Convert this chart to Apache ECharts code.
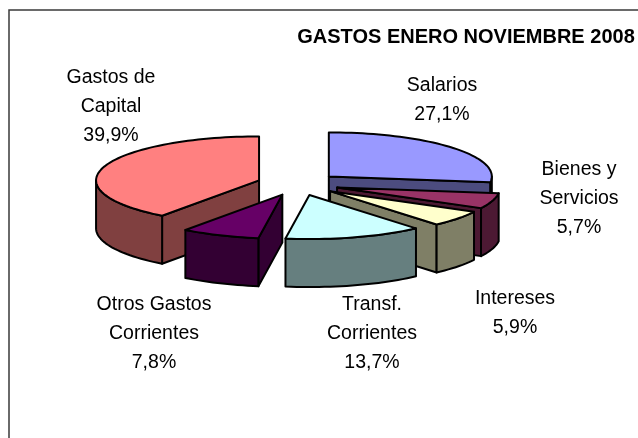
<!DOCTYPE html>
<html>
<head>
<meta charset="utf-8">
<style>html,body{margin:0;padding:0;background:#fff}#c{width:638px;height:438px}</style>
<script src="https://cdn.jsdelivr.net/npm/echarts@6/dist/echarts.min.js"></script>
</head>
<body>
<div id="c"></div>
<script>
const titleText = 'GASTOS ENERO NOVIEMBRE 2008';
const categories = ['Salarios', 'Bienes y Servicios', 'Intereses', 'Transf. Corrientes', 'Otros Gastos Corrientes', 'Gastos de Capital'];
const labelLines = [['Salarios'], ['Bienes y', 'Servicios'], ['Intereses'], ['Transf.', 'Corrientes'], ['Otros Gastos', 'Corrientes'], ['Gastos de', 'Capital']];
const shares = [27.1, 5.7, 5.9, 13.7, 7.8, 39.9];

const topColors = ['#9999FF', '#993366', '#FFFFCC', '#CCFFFF', '#660066', '#FF8080'];
const sideColors = ['#4C4C7F', '#4C1933', '#7F7F66', '#667F7F', '#330033', '#804040'];
const labelAnchors = [[442, 86], [579, 170], [515, 299], [372, 305], [154, 305], [111, 78]];

const TOTAL = shares.reduce((a, b) => a + b, 0);
const DEPTH = 48 / 44;     // wall height in radius units of y
const EXPLODE_X = 41 / 163, EXPLODE_Y = 11.5 / 44;
const RAD = Math.PI / 180;
const FONT = '"Liberation Sans", Arial, sans-serif';

const chart = echarts.init(document.getElementById('c'), null, { renderer: 'canvas' });

function renderSlice(params, api) {
  const i = params.dataIndex;
  const a0 = api.value(1) / TOTAL * 360;
  const a1 = a0 + api.value(2) / TOTAL * 360;
  const mid = (a0 + a1) / 2;
  const ox = EXPLODE_X * Math.sin(mid * RAD);
  const oy = EXPLODE_Y * Math.cos(mid * RAD);
  const pt = (a, r, drop) => api.coord([ox + r * Math.sin(a * RAD), oy + r * Math.cos(a * RAD) - drop]);
  const arc = (s, e, drop) => {
    const pts = [];
    const n = Math.max(2, Math.ceil((e - s) / 2));
    for (let k = 0; k <= n; k++) pts.push(pt(s + (e - s) * k / n, 1, drop));
    return pts;
  };
  const base = Math.round((1 - Math.cos(mid * RAD)) * 100) * 10;
  const line = { stroke: '#000', lineWidth: 2, lineJoin: 'round' };
  const poly = (pts, fill, z) => ({
    type: 'polygon', z2: base + z, silent: true,
    shape: { points: pts },
    style: Object.assign({ fill: fill }, line)
  });
  const children = [];
  const wall = (a, z) => children.push(poly([pt(0, 0, 0), pt(a, 1, 0), pt(a, 1, DEPTH), pt(0, 0, DEPTH)], sideColors[i], z));
  // cut faces that look towards the viewer
  if (Math.sin(a0 * RAD) < -1e-6) wall(a0, 1);
  if (Math.sin(a1 * RAD) > 1e-6) wall(a1, 2);
  // outer rim, front half only
  const s = Math.max(a0, 90), e = Math.min(a1, 270);
  if (e > s) {
    const upper = arc(s, e, 0), lower = arc(s, e, DEPTH).reverse();
    children.push(poly(upper.concat(lower), sideColors[i], 3));
  }
  // top surface
  children.push(poly([pt(0, 0, 0)].concat(arc(a0, a1, 0)), topColors[i], 4));
  return { type: 'group', children: children };
}

let running = 0;
const rows = shares.map((v, i) => {
  const row = [categories[i], running, v];
  running += v;
  return row;
});

const graphics = [{
  type: 'polyline', silent: true,
  shape: { points: [[9, 440], [9, 10], [640, 10]] },
  style: { stroke: '#3a3a3a', lineWidth: 1.5, fill: null }
}];
const LINE_STEP = 28.7;
labelLines.forEach((lines, i) => {
  const all = lines.concat([shares[i].toFixed(1).replace('.', ',') + '%']);
  all.forEach((t, k) => graphics.push({
    type: 'text', silent: true,
    x: labelAnchors[i][0], y: labelAnchors[i][1] + k * LINE_STEP,
    style: { text: t, fill: '#000', font: '19.5px ' + FONT, textAlign: 'center', textVerticalAlign: 'middle' }
  }));
});

chart.setOption({
  animation: false,
  backgroundColor: '#fff',
  title: {
    text: titleText, left: 461, top: 22, textAlign: 'center',
    textStyle: { fontFamily: FONT, fontSize: 20, fontWeight: 'bold', color: '#000' }
  },
  grid: { left: 135, top: 140, width: 326, height: 88 },
  xAxis: { type: 'value', min: -1, max: 1, show: false },
  yAxis: { type: 'value', min: -1, max: 1, show: false },
  series: [{
    type: 'custom',
    coordinateSystem: 'cartesian2d',
    clip: false,
    silent: true,
    data: rows,
    encode: { x: 1, y: 2 },
    renderItem: renderSlice
  }],
  graphic: graphics
});
</script>
</body>
</html>
